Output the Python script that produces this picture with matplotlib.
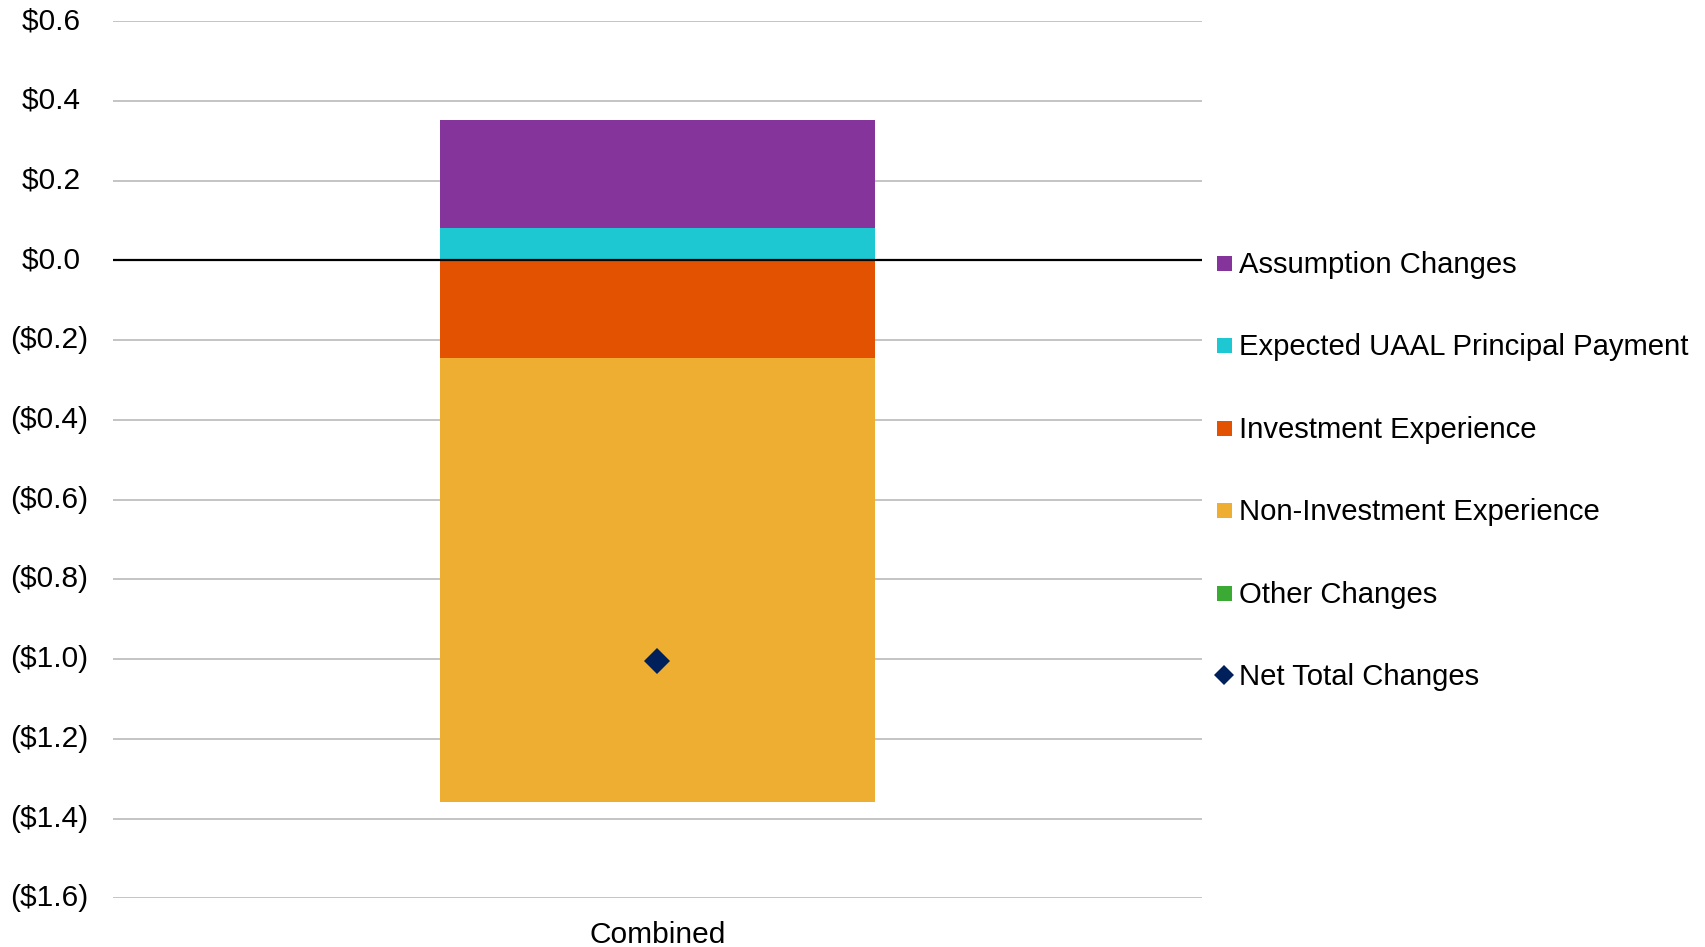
import numpy as np
import matplotlib.pyplot as plt
from matplotlib.lines import Line2D

plt.rcParams['font.family'] = ['Liberation Sans', 'DejaVu Sans']

# Change in UAAL by source ($ billions)
categories = ["Combined"]
series_names = ["Assumption Changes", "Expected UAAL Principal Payment",
                "Investment Experience", "Non-Investment Experience", "Other Changes"]
assumption = [0.271]
expected_uaal = [0.082]
investment = [-0.244]
non_investment = [-1.114]
other = [0.0]
net_total = [-1.005]

series_colors = ["#84349A", "#1EC8D3", "#E35200", "#EDAE31", "#3AAA35"]
net_color = "#00205B"

# stacking order on the bar (drawn outward from zero)
stack_order = [expected_uaal, assumption, investment, non_investment, other]
stack_colors = [series_colors[1], series_colors[0], series_colors[2],
                series_colors[3], series_colors[4]]

fig = plt.figure(figsize=(17.06, 9.47), dpi=100)
ax = fig.add_axes([0.0662, 0.0514, 0.6384, 0.9264])

x = np.arange(len(categories))
pos_bottom = np.zeros(len(categories))
neg_bottom = np.zeros(len(categories))
for vals, col in zip(stack_order, stack_colors):
    v = np.array(vals)
    bottom = np.where(v >= 0, pos_bottom, neg_bottom)
    ax.bar(x, v, width=0.4, bottom=bottom, color=col, linewidth=0, zorder=2)
    pos_bottom += np.clip(v, 0, None)
    neg_bottom += np.clip(v, None, 0)

ax.plot(x, net_total, linestyle='none', marker='D', markersize=13.5,
        color=net_color, markeredgewidth=0, zorder=4)

ax.axhline(0, color='black', linewidth=1.6, zorder=3)

ax.set_xlim(-0.5, 0.5)
ax.set_ylim(-1.6, 0.6)
yticks = np.round(np.arange(-1.6, 0.61, 0.2), 1)
ax.set_yticks(yticks)


def money(v):
    if v < -1e-9:
        return f"(${abs(v):.1f})"
    return f"${abs(v):.1f} "


ax.set_yticklabels([money(v) for v in yticks], va='center')
ax.set_xticks(x)
ax.set_xticklabels(categories)
ax.tick_params(axis='both', length=0, labelsize=21.5, colors='black')
ax.tick_params(axis='y', pad=18)
ax.tick_params(axis='x', pad=16)
ax.yaxis.grid(True, color='#BFBFBF', linewidth=1.3)
ax.set_axisbelow(True)
for s in ax.spines.values():
    s.set_visible(False)

handles = [Line2D([], [], linestyle='none', marker='s', markersize=10.8,
                  markeredgewidth=0, color=c) for c in series_colors]
handles.append(Line2D([], [], linestyle='none', marker='D', markersize=9.7,
                      markeredgewidth=0, color=net_color))
labels = series_names + ["Net Total Changes"]
fig.legend(handles, labels, loc='upper left', bbox_to_anchor=(0.7124, 0.735),
           frameon=False, borderpad=0, borderaxespad=0, handlelength=0.6,
           handletextpad=0.2, labelspacing=1.86, fontsize=21.1)

fig.savefig('out.png', dpi=100)
